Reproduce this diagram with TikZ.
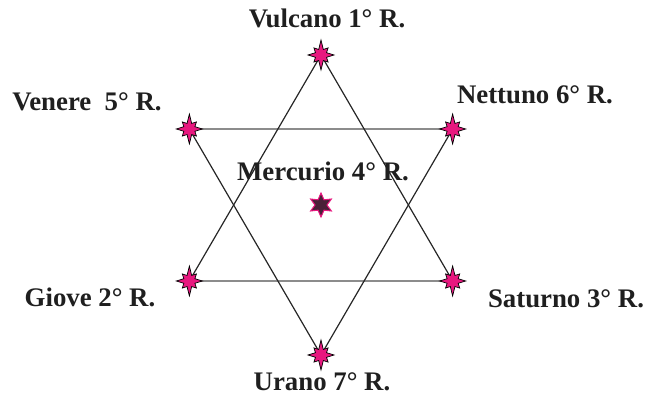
\documentclass[tikz,border=0pt]{standalone}
\usepackage{fontspec}
\setmainfont{Liberation Serif}
\usepackage{tikz}
\definecolor{astropink}{HTML}{E8187F}
\definecolor{astrodark}{HTML}{4A2038}

\tikzset{
  pics/astro/.style={code={
    \filldraw[draw=black,line width=0.35pt,fill=astropink]
      (0:13) \foreach \k in {1,...,15}{
        -- ({\k*22.5}:{ifthenelse(mod(\k,2)==1,6,ifthenelse(mod(\k,8)==4,15,ifthenelse(mod(\k,4)==0,13,10)))})
      } -- cycle;
  }},
  pics/centro/.style={code={
    \filldraw[draw=astropink,line width=0.5pt,fill=astrodark]
      (90:12) \foreach \k in {1,...,11}{
        -- ({90+\k*30}:{ifthenelse(mod(\k,2)==1,6,12)})
      } -- cycle;
  }}
}

\begin{document}
\begin{tikzpicture}[
  x=0.5pt,y=-0.5pt,
  label/.style={font=\fontsize{13.4}{15}\selectfont\bfseries,inner sep=0pt,text=black!88},
  tri/.style={line width=0.6pt,draw=black!85},
  bar/.style={line width=0.9pt,draw=black!45}
]
  \useasboundingbox (0,0) rectangle (646,399);

  % star positions (regular hexagram round Mercurio)
  \coordinate (mercurio) at (321,205);
  \coordinate (vulcano) at ([shift={(90:150)}]mercurio);
  \coordinate (nettuno) at ([shift={(30:152)}]mercurio);
  \coordinate (venere) at ([shift={(150:152)}]mercurio);
  \coordinate (giove) at ([shift={(210:152)}]mercurio);
  \coordinate (saturno) at ([shift={(330:152)}]mercurio);
  \coordinate (urano) at ([shift={(270:150)}]mercurio);

  % triangles
  \draw[bar] (venere) -- (nettuno);
  \draw[bar] (giove) -- (saturno);
  \draw[tri] (vulcano) -- (giove);
  \draw[tri] (vulcano) -- (saturno);
  \draw[tri] (venere) -- (urano);
  \draw[tri] (nettuno) -- (urano);

  \foreach \p in {vulcano,nettuno,venere,giove,saturno,urano}
    \pic at (\p) {astro};
  \pic at (mercurio) {centro};

  % names
  \node[label] (lvulcano) at (327,18) {Vulcano 1° R.};
  \node[label] (lnettuno) at (535,95) {Nettuno 6° R.};
  \node[label] (lvenere) at (87,102) {Venere\ \ 5° R.};
  \node[label] (lmercurio) at (323,171) {Mercurio 4° R.};
  \node[label] (lgiove) at (90,297) {Giove 2° R.};
  \node[label] (lsaturno) at (566,299) {Saturno 3° R.};
  \node[label] (lurano) at (322,382) {Urano 7° R.};
\end{tikzpicture}
\end{document}
